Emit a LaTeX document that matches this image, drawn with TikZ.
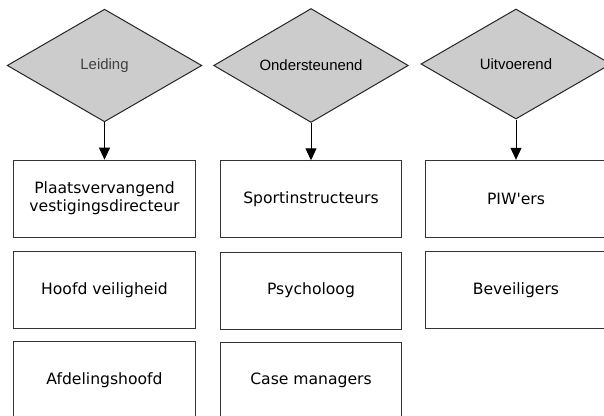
\documentclass[tikz,border=0pt]{standalone}
\usepackage{fontspec}
\newfontfamily\diafont{Liberation Sans}
\newfontfamily\boxfont{DejaVu Sans}
\usepackage{tikz}
\usetikzlibrary{shapes.geometric,arrows.meta,positioning}
\usepackage{xcolor}
\definecolor{diagray}{RGB}{204,204,204}
\definecolor{leidtext}{RGB}{64,64,64}

\begin{document}
\begin{tikzpicture}[
  x=0.75pt, y=-0.75pt,
  dia/.style={diamond, draw=black!85, line width=0.75pt, fill=diagray,
              minimum width=146pt, minimum height=84.5pt, inner sep=0pt,
              font=\diafont\fontsize{11.2}{13.5}\selectfont},
  box/.style={rectangle, draw=black!80, line width=0.75pt, fill=white,
              minimum width=136pt, minimum height=57.75pt, align=center,
              font=\boxfont\fontsize{11.7}{13.5}\selectfont},
  arr/.style={draw, line width=0.75pt, -{Triangle[length=9pt, width=8.25pt]}}
]
\useasboundingbox (0,0) rectangle (604,416);
\fill[white] (0,0) rectangle (604,416);

% categories
\node[dia, text=leidtext] (leiding) at (104.5,65.5) {Leiding};
\node[dia] (onder) at (311,65.5) {Ondersteunend};
\node[dia, minimum width=142.5pt, minimum height=82.5pt] (uitv) at (516,64)
  {Uitvoerend};

% functions
\node[box, below=28pt of leiding] (plaats)
  {Plaatsvervangend\\vestigingsdirecteur};
\node[box, below=10pt of plaats] (hoofd) {Hoofd veiligheid};
\node[box, below=9pt of hoofd] (afdeling) {Afdelingshoofd};

\node[box, below=28pt of onder] (sport) {Sportinstructeurs};
\node[box, below=10pt of sport] (psych) {Psycholoog};
\node[box, below=9pt of psych] (casem) {Case managers};

\node[box, below=30.25pt of uitv] (piw) {PIW'ers};
\node[box, below=10pt of piw] (beveil) {Beveiligers};

\draw[arr] (leiding) -- (plaats);
\draw[arr] (onder) -- (sport);
\draw[arr] (uitv) -- (piw);
\end{tikzpicture}
\end{document}
